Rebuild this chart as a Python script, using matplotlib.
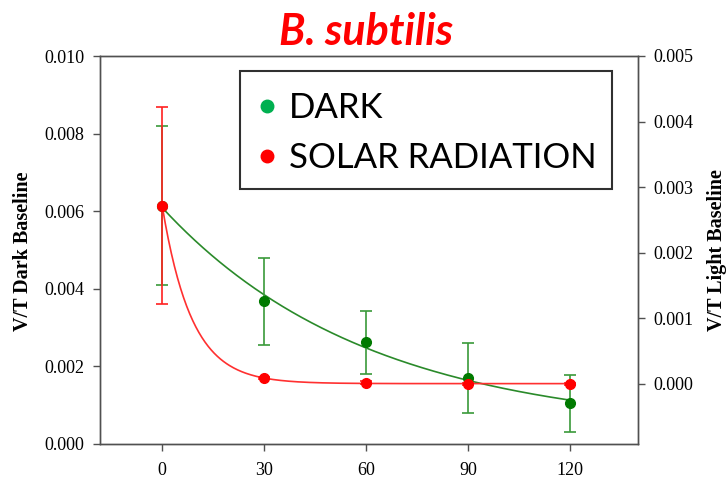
import numpy as np
import matplotlib
matplotlib.use("Agg")
import matplotlib.pyplot as plt
from matplotlib.patches import Rectangle
from matplotlib.lines import Line2D

# ---- data ----
time_min = [0, 30, 60, 90, 120]
dark_vals = [0.00614, 0.00368, 0.00262, 0.00170, 0.00105]
dark_err = [0.00205, 0.00112, 0.00081, 0.00090, 0.00073]
solar_vals = [0.00272, 0.00009, 0.00002, 0.00000, 0.00000]
solar_err = [0.00150, 0.00002, 0.00002, 0.00002, 0.00002]

x_ticks = [0, 30, 60, 90, 120]
left_ticks = [0.000, 0.002, 0.004, 0.006, 0.008, 0.010]
right_ticks = [0.000, 0.001, 0.002, 0.003, 0.004, 0.005]
legend_labels = ["DARK", "SOLAR RADIATION"]
title_text = "B. subtilis"
left_label = "V/T Dark Baseline"
right_label = "V/T Light Baseline"


def fit_exp(t, y):
    t = np.asarray(t, float)
    y = np.asarray(y, float)
    best = None
    for k in np.linspace(0.001, 0.4, 4000):
        A = np.column_stack([np.exp(-k * t), np.ones_like(t)])
        coef, *_ = np.linalg.lstsq(A, y, rcond=None)
        r = np.sum((A @ coef - y) ** 2)
        if best is None or r < best[0]:
            best = (r, k, coef)
    _, k, (a, c) = best
    return lambda tt: a * np.exp(-k * tt) + c


fig = plt.figure(figsize=(7.28, 4.79), dpi=100)
ax = fig.add_axes([100 / 728, 1 - 444 / 479, 538 / 728, 388 / 479])
ax2 = ax.twinx()

serif = "Liberation Serif"
spine_c = "#505050"

tt = np.linspace(0, 120, 400)
gfit = fit_exp(time_min, dark_vals)
rfit = fit_exp(time_min, solar_vals)

ax.plot(tt, gfit(tt), color="#2a8a2a", lw=1.2, zorder=2)
ax.errorbar(time_min, dark_vals, yerr=dark_err, fmt="none", ecolor="#3a9a3a",
            elinewidth=1.2, capsize=4.5, capthick=1.2, zorder=3)
ax.plot(time_min, dark_vals, "o", color="#007a00", ms=7, zorder=4)

ax2.plot(tt, rfit(tt), color="#ff3030", lw=1.2, zorder=2)
ax2.errorbar(time_min, solar_vals, yerr=solar_err, fmt="none", ecolor="#ff2020",
             elinewidth=1.2, capsize=4.5, capthick=1.2, zorder=3)
ax2.plot(time_min, solar_vals, "o", color="#ff0000", ms=7, zorder=4)

ax.set_xlim(-18.3, 140.1)
ax.set_ylim(0, 0.010)
ax2.set_ylim(-0.000915, 0.005)
ax.set_xticks(x_ticks)
ax.set_xticklabels([str(v) for v in x_ticks])
ax.set_yticks(left_ticks)
ax.set_yticklabels([f"{v:.3f}" for v in left_ticks])
ax2.set_yticks(right_ticks)
ax2.set_yticklabels([f"{v:.3f}" for v in right_ticks])

for a in (ax, ax2):
    for s in a.spines.values():
        s.set_color(spine_c)
        s.set_linewidth(1.0)
    a.tick_params(direction="out", length=5, width=1, color=spine_c,
                  labelsize=13, pad=6)
    for lab in a.get_xticklabels() + a.get_yticklabels():
        lab.set_fontfamily(serif)
ax.tick_params(axis="x", pad=8)

fig.text(23 / 728, 1 - 251 / 479, left_label, rotation=90, ha="center", va="center",
         fontfamily=serif, fontweight="bold", fontsize=14.5)
fig.text(717 / 728, 1 - 250 / 479, right_label, rotation=90, ha="center", va="center",
         fontfamily=serif, fontweight="bold", fontsize=14.5)

fig.text(366.5 / 728, 1 - 45 / 479, title_text, ha="center", va="baseline",
         color="#ff0000", fontfamily="Lato", fontweight="bold", fontstyle="italic",
         fontsize=31)

# legend box (PowerPoint-style)
fig.add_artist(Rectangle((240 / 728, 1 - 189 / 479), 372 / 728, 118 / 479,
                         transform=fig.transFigure, facecolor="white",
                         edgecolor="#303030", lw=1.5, zorder=10))
leg_colors = ["#00b050", "#ff0000"]
leg_y = [106, 156]
leg_base = [118, 168]
for lab, col, yc, yb in zip(legend_labels, leg_colors, leg_y, leg_base):
    fig.add_artist(Line2D([267 / 728], [1 - yc / 479], marker="o", ms=9,
                          color=col, ls="none", transform=fig.transFigure,
                          zorder=11))
    fig.text(289 / 728, 1 - yb / 479, lab, ha="left", va="baseline",
             fontfamily="Lato", fontsize=25, color="black", zorder=11)

fig.savefig("out.png", dpi=100)
